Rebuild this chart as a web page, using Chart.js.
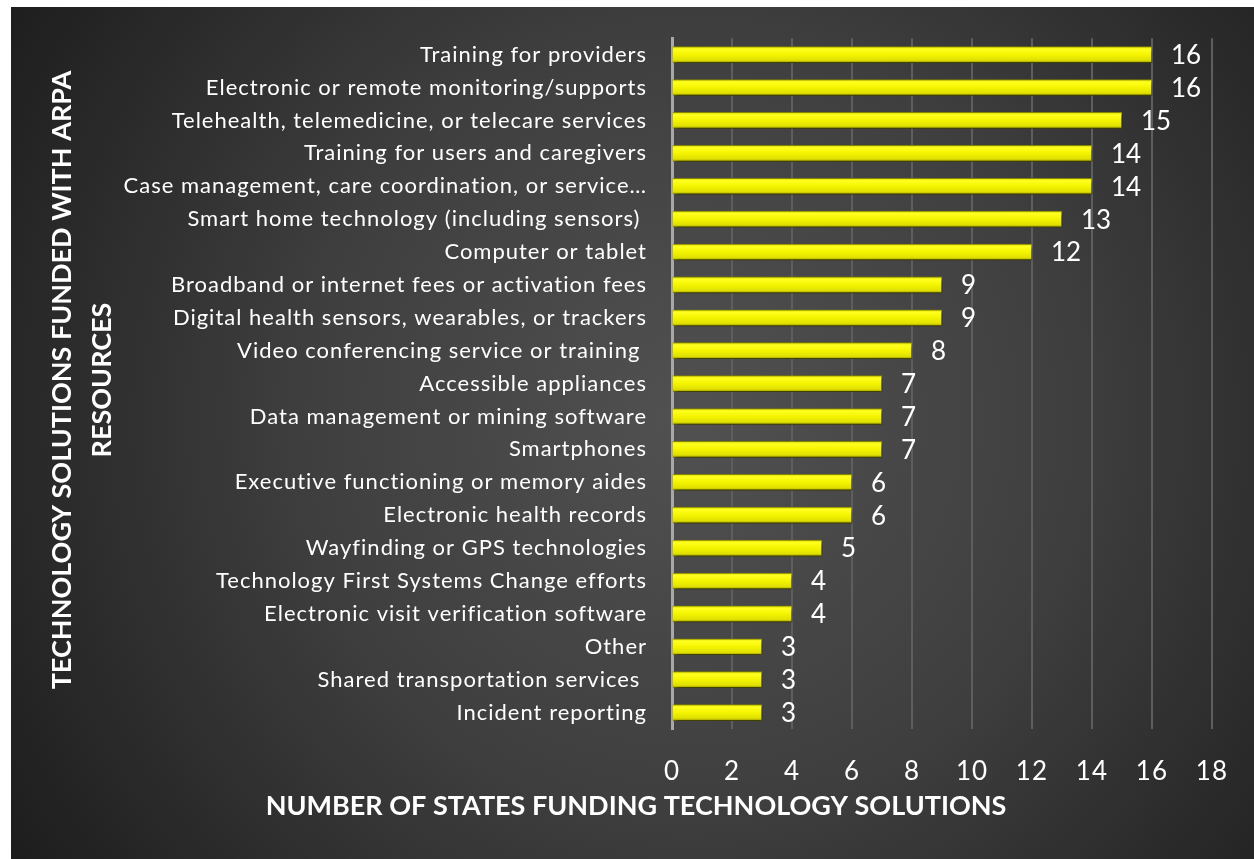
<!DOCTYPE html>
<html>
<head>
<meta charset="utf-8">
<script src="https://cdn.jsdelivr.net/npm/chart.js@4.4.1/dist/chart.umd.min.js"></script>
<style>
  html, body { margin: 0; padding: 0; background: #ffffff; }
  #wrap { position: relative; width: 1254px; height: 859px; }
</style>
</head>
<body>
<div id="wrap"><canvas id="c" width="1254" height="859"></canvas></div>
<script>
const categories = [
  "Training for providers",
  "Electronic or remote monitoring/supports",
  "Telehealth, telemedicine, or telecare services",
  "Training for users and caregivers",
  "Case management, care coordination, or service\u2026",
  "Smart home technology (including sensors) ",
  "Computer or tablet",
  "Broadband or internet fees or activation fees",
  "Digital health sensors, wearables, or trackers",
  "Video conferencing service or training ",
  "Accessible appliances",
  "Data management or mining software",
  "Smartphones",
  "Executive functioning or memory aides",
  "Electronic health records",
  "Wayfinding or GPS technologies",
  "Technology First Systems Change efforts",
  "Electronic visit verification software",
  "Other",
  "Shared transportation services ",
  "Incident reporting"
];
const statesFunding = [16, 16, 15, 14, 14, 13, 12, 9, 9, 8, 7, 7, 7, 6, 6, 5, 4, 4, 3, 3, 3];
const xTicks = [0, 2, 4, 6, 8, 10, 12, 14, 16, 18];
const xTitle = "NUMBER OF STATES FUNDING TECHNOLOGY SOLUTIONS";
const yTitleLines = ["TECHNOLOGY SOLUTIONS FUNDED WITH ARPA", "RESOURCES"];

const FONT = "Lato, 'Open Sans', sans-serif";

const bgPlugin = {
  id: 'bg',
  beforeDraw(chart) {
    const ctx = chart.ctx;
    ctx.save();
    ctx.fillStyle = '#ffffff';
    ctx.fillRect(0, 0, chart.width, chart.height);
    const g = ctx.createRadialGradient(690, 420, 20, 690, 420, 820);
    g.addColorStop(0, '#505050');
    g.addColorStop(0.45, '#3f3f3f');
    g.addColorStop(1, '#1c1c1c');
    ctx.fillStyle = g;
    ctx.fillRect(11, 7, chart.width - 11, chart.height - 7);
    ctx.restore();
    ctx.letterSpacing = '1px';
  }
};

const shadowPlugin = {
  id: 'barShadow',
  beforeDatasetsDraw(chart) {
    const ctx = chart.ctx;
    ctx.save();
    ctx.shadowColor = 'rgba(0,0,0,0.6)';
    ctx.shadowBlur = 4;
    ctx.shadowOffsetX = 2;
    ctx.shadowOffsetY = 3;
  },
  afterDatasetsDraw(chart) {
    chart.ctx.restore();
  }
};

const labelsPlugin = {
  id: 'valueLabels',
  afterDatasetsDraw(chart) {
    const ctx = chart.ctx;
    const meta = chart.getDatasetMeta(0);
    ctx.save();
    ctx.letterSpacing = '0px';
    ctx.fillStyle = '#ffffff';
    ctx.font = '26px ' + FONT;
    ctx.textAlign = 'left';
    ctx.textBaseline = 'middle';
    meta.data.forEach((bar, i) => {
      ctx.fillText(String(statesFunding[i]), bar.x + 19, bar.y + 1);
    });
    ctx.restore();
  }
};

const titlesPlugin = {
  id: 'axisTitles',
  afterDraw(chart) {
    const ctx = chart.ctx;
    ctx.save();
    ctx.letterSpacing = '0px';
    ctx.fillStyle = '#ffffff';
    ctx.font = 'bold 27px ' + FONT;
    ctx.textAlign = 'center';
    ctx.textBaseline = 'middle';
    ctx.fillText(xTitle, 636, 806);
    ctx.translate(0, 380);
    ctx.rotate(-Math.PI / 2);
    ctx.fillText(yTitleLines[0], 0, 62);
    ctx.fillText(yTitleLines[1], 0, 102);
    ctx.restore();
  }
};

function barGradient(context) {
  const chart = context.chart;
  const ys = chart.scales && chart.scales.y;
  if (!ys || !chart.chartArea) return '#f2f200';
  const y = ys.getPixelForValue(context.dataIndex);
  if (!isFinite(y)) return '#f2f200';
  const h = 16;
  const g = chart.ctx.createLinearGradient(0, y - h / 2, 0, y + h / 2);
  g.addColorStop(0, '#d8d800');
  g.addColorStop(0.15, '#ffff20');
  g.addColorStop(0.5, '#f4f400');
  g.addColorStop(0.85, '#e0e000');
  g.addColorStop(1, '#9c9c00');
  return g;
}

new Chart(document.getElementById('c'), {
  type: 'bar',
  data: {
    labels: categories,
    datasets: [{
      data: statesFunding,
      backgroundColor: barGradient,
      borderColor: '#8a8a00',
      borderWidth: 1,
      borderSkipped: 'start',
      barThickness: 16
    }]
  },
  options: {
    indexAxis: 'y',
    responsive: false,
    animation: false,
    layout: { padding: { top: 35, right: 41, left: 0, bottom: 0 } },
    plugins: {
      legend: { display: false },
      tooltip: { enabled: false }
    },
    scales: {
      x: {
        min: 0,
        max: 18,
        afterBuildTicks(scale) { scale.ticks = xTicks.map(v => ({ value: v })); },
        afterFit(scale) { scale.height = 859 - 35 - 694; },
        ticks: {
          color: '#ffffff',
          font: { family: FONT, size: 26 },
          padding: 27
        },
        grid: { color: '#5e5e5e', lineWidth: 2, drawTicks: false },
        border: { display: false }
      },
      y: {
        afterFit(scale) { scale.width = 672; },
        ticks: {
          color: '#ffffff',
          font: { family: FONT, size: 22 },
          padding: 25,
          autoSkip: false
        },
        grid: { display: false, drawTicks: false },
        border: { display: true, color: '#a8a8a8', width: 3 }
      }
    }
  },
  plugins: [bgPlugin, shadowPlugin, labelsPlugin, titlesPlugin]
});
</script>
</body>
</html>
